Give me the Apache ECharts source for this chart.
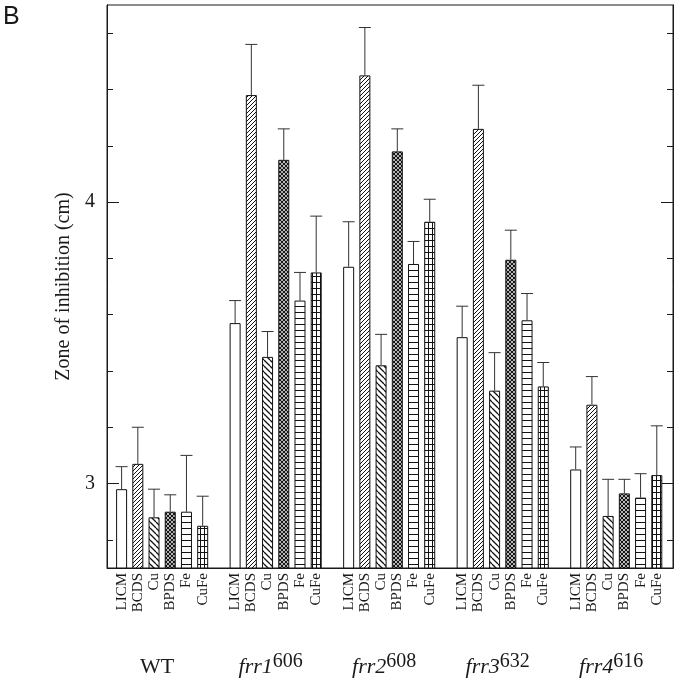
<!DOCTYPE html>
<html>
<head>
<meta charset="utf-8">
<script src="https://cdn.jsdelivr.net/npm/echarts@6/dist/echarts.min.js"></script>
<style>html,body{margin:0;padding:0;background:#fff}#c{width:700px;height:698px}</style>
</head>
<body>
<div id="c"></div>
<script>
// ---- data ----
const treatments = ['LICM', 'BCDS', 'Cu', 'BPDS', 'Fe', 'CuFe'];
const strains = ['WT', 'frr1', 'frr2', 'frr3', 'frr4'];
const alleles = ['', '606', '608', '632', '616'];
// mean zone of inhibition (cm) per treatment, ordered by strain
const meanLICM = [2.98, 3.57, 3.77, 3.52, 3.05];
const meanBCDS = [3.07, 4.38, 4.45, 4.26, 3.28];
const meanCu   = [2.88, 3.45, 3.42, 3.33, 2.885];
const meanBPDS = [2.90, 4.15, 4.18, 3.795, 2.965];
const meanFe   = [2.90, 3.65, 3.78, 3.58, 2.95];
const meanCuFe = [2.85, 3.75, 3.93, 3.345, 3.03];
// upper error (SD) per treatment, ordered by strain
const sdLICM = [0.08, 0.08, 0.16, 0.11, 0.08];
const sdBCDS = [0.13, 0.18, 0.17, 0.155, 0.10];
const sdCu   = [0.10, 0.09, 0.11, 0.135, 0.13];
const sdBPDS = [0.06, 0.11, 0.08, 0.105, 0.05];
const sdFe   = [0.20, 0.10, 0.08, 0.095, 0.085];
const sdCuFe = [0.105, 0.20, 0.08, 0.085, 0.175];
const yMinorTicks = [2.8, 3.0, 3.2, 3.4, 3.6, 3.8, 4.0, 4.2, 4.4, 4.6];
const yMajorTicks = [3, 4];
const yTitle = 'Zone of inhibition (cm)';

const means = [meanLICM, meanBCDS, meanCu, meanBPDS, meanFe, meanCuFe];
const sds = [sdLICM, sdBCDS, sdCu, sdBPDS, sdFe, sdCuFe];

// ---- layout helpers ----
const slots = treatments.length + 1;
const pos = (g, j) => g * slots + j;
const barPositions = [];
strains.forEach((_, g) => treatments.forEach((_, j) => barPositions.push(pos(g, j))));
const groupCenters = strains.map((_, g) => pos(g, (treatments.length - 1) / 2));

// ---- hatch patterns ----
function tile(w, h, draw) {
  const c = document.createElement('canvas');
  c.width = w; c.height = h;
  const ctx = c.getContext('2d');
  ctx.fillStyle = '#fff'; ctx.fillRect(0, 0, w, h);
  ctx.strokeStyle = '#111'; ctx.lineWidth = 1;
  draw(ctx, w, h);
  return { image: c, repeat: 'repeat' };
}
function diag(ctx, s, up) {
  ctx.beginPath();
  for (let k = -1; k <= 1; k++) {
    if (up) { ctx.moveTo(k * s, s); ctx.lineTo(k * s + s, 0); }
    else { ctx.moveTo(k * s, 0); ctx.lineTo(k * s + s, s); }
  }
  ctx.stroke();
}
const fills = [
  '#fff',
  tile(4, 4, (ctx, w) => diag(ctx, w, true)),
  tile(6, 6, (ctx, w) => { ctx.lineWidth = 1.3; diag(ctx, w, false); }),
  tile(4, 4, (ctx, w) => { ctx.lineWidth = 1.2; diag(ctx, w, true); diag(ctx, w, false); }),
  tile(4, 6, (ctx, w) => { ctx.beginPath(); ctx.moveTo(0, 0.5); ctx.lineTo(w, 0.5); ctx.stroke(); }),
  tile(4, 6, (ctx, w, h) => { ctx.beginPath(); ctx.moveTo(0, 0.5); ctx.lineTo(w, 0.5); ctx.moveTo(0.5, 0); ctx.lineTo(0.5, h); ctx.stroke(); })
];

const serif = '"Liberation Serif", "DejaVu Serif", serif';
const ink = '#1a1a1a';

const barSeries = treatments.map((t, j) => ({
  name: t,
  type: 'bar',
  xAxisIndex: 0,
  yAxisIndex: 0,
  barWidth: 11,
  barGap: '-100%',
  silent: true,
  itemStyle: { color: fills[j], borderColor: '#111', borderWidth: 1 },
  data: strains.map((_, g) => [pos(g, j), means[j][g]])
}));

const errData = [];
treatments.forEach((t, j) => strains.forEach((_, g) => {
  errData.push([pos(g, j), means[j][g], means[j][g] + sds[j][g]]);
}));

const errSeries = {
  type: 'custom',
  xAxisIndex: 0,
  yAxisIndex: 0,
  silent: true,
  z: 5,
  data: errData,
  encode: { x: 0, y: [1, 2] },
  renderItem: (params, api) => {
    const x = api.value(0), m = api.value(1), h = api.value(2);
    const p0 = api.coord([x, m]), p1 = api.coord([x, h]);
    const hw = 6;
    const st = { stroke: '#333', lineWidth: 1 };
    return {
      type: 'group',
      children: [
        { type: 'line', shape: { x1: p0[0], y1: p0[1], x2: p1[0], y2: p1[1] }, style: st },
        { type: 'line', shape: { x1: p1[0] - hw, y1: p1[1], x2: p1[0] + hw, y2: p1[1] }, style: st }
      ]
    };
  }
};

function yAx(position, ticks, len, withLabels) {
  const ax = {
    type: 'value', min: 2.7, max: 4.7, position: position, offset: 0,
    splitLine: { show: false },
    axisLine: { show: true, onZero: false, lineStyle: { color: ink, width: 1 } },
    axisTick: { show: true, inside: true, length: len, customValues: ticks, lineStyle: { color: ink, width: 1 } },
    axisLabel: { show: false }
  };
  if (withLabels) {
    ax.axisLabel = { show: true, customValues: yMajorTicks, margin: 12, fontFamily: serif, fontSize: 20, color: ink, formatter: v => String(v) };
    ax.name = yTitle;
    ax.nameLocation = 'middle';
    ax.nameGap = 32;
    ax.nameTextStyle = { fontFamily: serif, fontSize: 20, color: ink };
  }
  return ax;
}

const chart = echarts.init(document.getElementById('c'), null, { renderer: 'canvas' });
chart.setOption({
  animation: false,
  backgroundColor: '#fff',
  graphic: [{ type: 'text', left: 3, top: 5, style: { text: 'B', font: '25px "Liberation Sans", Arial, sans-serif', fill: ink } }],
  grid: { left: 107, right: 27, top: 5, bottom: 130, show: true, borderColor: ink, borderWidth: 1, backgroundColor: 'transparent' },
  xAxis: [
    {
      type: 'value', min: -0.9, max: 34, position: 'bottom',
      splitLine: { show: false },
      axisLine: { show: true, onZero: false, lineStyle: { color: ink } },
      axisTick: { show: false },
      axisLabel: {
        customValues: barPositions, rotate: 90, margin: 5,
        fontFamily: serif, fontSize: 15, color: ink,
        formatter: v => treatments[Math.round(v) % slots] || ''
      }
    },
    {
      type: 'value', min: -0.9, max: 34, position: 'bottom', offset: 0,
      splitLine: { show: false },
      axisLine: { show: false, onZero: false },
      axisTick: { show: false },
      axisLabel: {
        customValues: groupCenters, margin: 84,
        padding: [0, 10, 0, 0],
        formatter: v => {
          const g = Math.round((v - (treatments.length - 1) / 2) / slots);
          return alleles[g] ? '{i|' + strains[g] + '}{s|' + alleles[g] + '}' : '{n|' + strains[g] + '}';
        },
        rich: {
          n: { fontFamily: serif, fontSize: 22, color: ink, lineHeight: 30 },
          i: { fontFamily: serif, fontSize: 22, fontStyle: 'italic', color: ink, lineHeight: 30 },
          s: { fontFamily: serif, fontSize: 20, color: ink, lineHeight: 20, verticalAlign: 'top' }
        }
      }
    }
  ],
  yAxis: [
    yAx('left', yMinorTicks, 6, false),
    yAx('left', yMajorTicks, 12, true),
    yAx('right', yMinorTicks, 6, false),
    yAx('right', yMajorTicks, 12, false)
  ],
  series: barSeries.concat([errSeries])
});
</script>
</body>
</html>
